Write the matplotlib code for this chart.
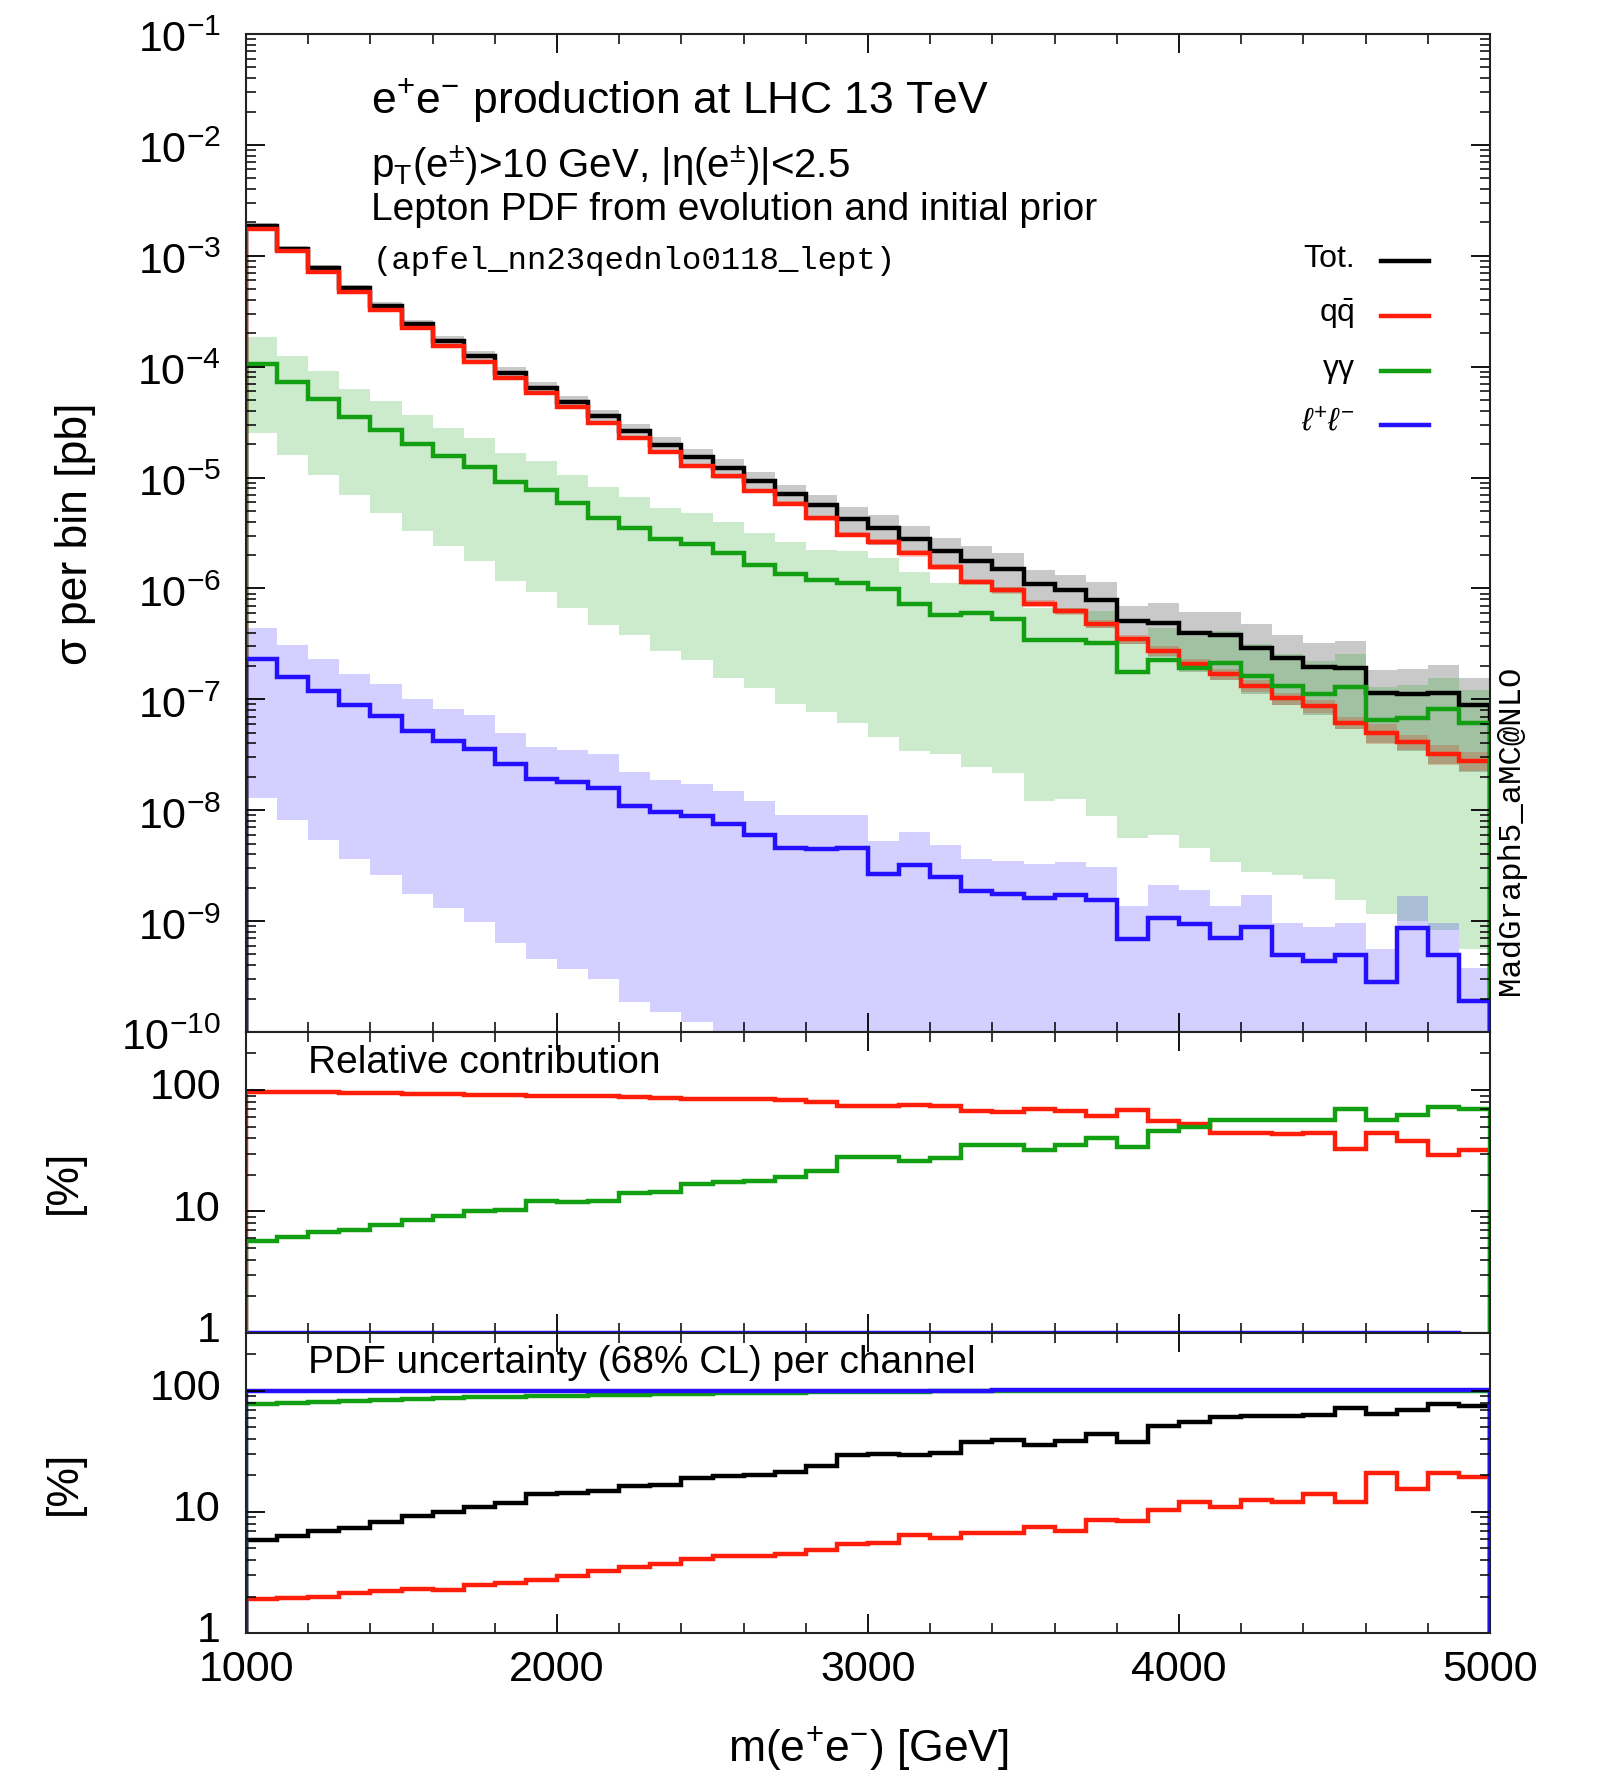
import numpy as np
import matplotlib
matplotlib.use('Agg')
import matplotlib.pyplot as plt
import matplotlib.transforms as mtransforms
from matplotlib.ticker import LogLocator, MultipleLocator, NullFormatter, FuncFormatter, FixedLocator
from matplotlib.lines import Line2D

plt.rcParams['font.family'] = ['Liberation Sans', 'DejaVu Sans']
plt.rcParams['mathtext.fontset'] = 'custom'
plt.rcParams['mathtext.rm'] = 'Liberation Sans'
plt.rcParams['mathtext.it'] = 'Liberation Sans:italic'
plt.rcParams['mathtext.bf'] = 'Liberation Sans:bold'

# ---------------- data ----------------
bin_edges = list(range(1000, 5001, 100))  # m(e+e-) bins [GeV]

tot = [1.86e-3, 1.16e-3, 7.7e-4, 5.1e-4, 3.5e-4, 2.42e-4, 1.71e-4, 1.24e-4, 8.8e-5, 6.4e-5,
       4.8e-5, 3.57e-5, 2.61e-5, 1.98e-5, 1.52e-5, 1.22e-5, 9.3e-6, 7.1e-6, 5.6e-6, 4.2e-6,
       3.52e-6, 2.82e-6, 2.17e-6, 1.76e-6, 1.50e-6, 1.09e-6, 9.6e-7, 7.85e-7, 5.08e-7, 4.9e-7,
       3.94e-7, 3.83e-7, 2.92e-7, 2.34e-7, 1.97e-7, 1.93e-7, 1.13e-7, 1.11e-7, 1.15e-7, 8.9e-8]
qqbar = [1.74e-3, 1.11e-3, 7.2e-4, 4.7e-4, 3.24e-4, 2.21e-4, 1.55e-4, 1.11e-4, 7.9e-5, 5.75e-5,
         4.34e-5, 3.11e-5, 2.28e-5, 1.69e-5, 1.27e-5, 1.03e-5, 7.53e-6, 5.83e-6, 4.28e-6, 3.06e-6,
         2.63e-6, 2.07e-6, 1.56e-6, 1.15e-6, 9.6e-7, 7.3e-7, 6.25e-7, 4.8e-7, 3.48e-7, 2.72e-7,
         2.07e-7, 1.68e-7, 1.32e-7, 1.02e-7, 8.7e-8, 6.17e-8, 5.0e-8, 4.16e-8, 3.2e-8, 2.79e-8]
gamgam = [1.06e-4, 7.2e-5, 5.1e-5, 3.5e-5, 2.7e-5, 2.0e-5, 1.55e-5, 1.24e-5, 9.1e-6, 7.8e-6,
          5.85e-6, 4.31e-6, 3.52e-6, 2.82e-6, 2.52e-6, 2.09e-6, 1.63e-6, 1.36e-6, 1.18e-6, 1.11e-6,
          9.93e-7, 7.3e-7, 5.75e-7, 6.04e-7, 5.26e-7, 3.42e-7, 3.43e-7, 3.2e-7, 1.76e-7, 2.26e-7,
          1.93e-7, 2.14e-7, 1.64e-7, 1.32e-7, 1.12e-7, 1.30e-7, 6.5e-8, 6.84e-8, 8.1e-8, 6.08e-8]
gamgam_up = [1.84e-4, 1.26e-4, 9.1e-5, 6.3e-5, 4.9e-5, 3.7e-5, 2.8e-5, 2.26e-5, 1.67e-5, 1.4e-5,
             1.06e-5, 8.2e-6, 6.7e-6, 5.33e-6, 4.8e-6, 3.98e-6, 3.13e-6, 2.61e-6, 2.24e-6, 2.17e-6,
             1.89e-6, 1.40e-6, 1.11e-6, 1.17e-6, 1.03e-6, 6.7e-7, 6.7e-7, 6.2e-7, 3.4e-7, 4.43e-7,
             3.73e-7, 4.13e-7, 3.15e-7, 2.55e-7, 2.2e-7, 2.58e-7, 1.3e-7, 1.36e-7, 1.57e-7, 1.21e-7]
gamgam_dn = [2.5e-5, 1.6e-5, 1.06e-5, 6.9e-6, 4.8e-6, 3.3e-6, 2.4e-6, 1.78e-6, 1.17e-6, 9.2e-7,
             6.7e-7, 4.7e-7, 3.8e-7, 2.73e-7, 2.24e-7, 1.55e-7, 1.26e-7, 9.0e-8, 7.7e-8, 6.1e-8,
             4.6e-8, 3.4e-8, 3.2e-8, 2.44e-8, 2.15e-8, 1.2e-8, 1.25e-8, 8.8e-9, 5.6e-9, 6.0e-9,
             4.6e-9, 3.4e-9, 2.8e-9, 2.6e-9, 2.4e-9, 1.56e-9, 1.15e-9, 1.0e-9, 8.4e-10, 5.6e-10]
leplep = [2.3e-7, 1.6e-7, 1.18e-7, 8.9e-8, 7.1e-8, 5.15e-8, 4.2e-8, 3.6e-8, 2.6e-8, 1.9e-8,
          1.78e-8, 1.6e-8, 1.1e-8, 9.6e-9, 8.9e-9, 7.5e-9, 6.0e-9, 4.55e-9, 4.5e-9, 4.6e-9,
          2.65e-9, 3.2e-9, 2.5e-9, 1.85e-9, 1.75e-9, 1.61e-9, 1.71e-9, 1.56e-9, 6.9e-10, 1.06e-9,
          9.4e-10, 7.0e-10, 8.8e-10, 4.9e-10, 4.4e-10, 4.9e-10, 2.8e-10, 8.6e-10, 4.9e-10, 1.9e-10]
leplep_up = [4.4e-7, 3.1e-7, 2.3e-7, 1.7e-7, 1.37e-7, 1.01e-7, 8.2e-8, 7.2e-8, 5.0e-8, 3.75e-8,
             3.47e-8, 3.2e-8, 2.19e-8, 1.89e-8, 1.74e-8, 1.5e-8, 1.22e-8, 9.1e-9, 9.0e-9, 9.1e-9,
             5.3e-9, 6.3e-9, 4.9e-9, 3.6e-9, 3.5e-9, 3.3e-9, 3.4e-9, 3.1e-9, 1.37e-9, 2.1e-9,
             1.9e-9, 1.37e-9, 1.73e-9, 9.7e-10, 8.8e-10, 9.7e-10, 5.6e-10, 1.69e-9, 9.7e-10, 3.8e-10]
leplep_dn = [1.28e-8, 8.2e-9, 5.4e-9, 3.6e-9, 2.6e-9, 1.75e-9, 1.31e-9, 9.9e-10, 6.3e-10, 4.6e-10,
             3.7e-10, 3.0e-10, 1.85e-10, 1.5e-10, 1.22e-10] + [5e-11] * 25

# relative contribution [%]
rel_qqbar = [96.5, 96.0, 95.5, 95.0, 93.8, 93.2, 92.0, 90.9, 90.3, 88.6,
             88.6, 88.6, 87.0, 86.4, 84.8, 84.2, 83.7, 82.1, 80.0, 74.2,
             74.2, 75.5, 74.2, 67.4, 66.5, 69.2, 67.0, 61.2, 68.8, 55.7,
             52.3, 44.3, 44.3, 43.7, 44.3, 32.4, 44.3, 37.8, 28.9, 31.8]
rel_gamgam = [5.7, 6.2, 6.8, 7.0, 7.7, 8.5, 9.1, 10.0, 10.3, 12.2,
              12.0, 12.3, 14.1, 14.6, 16.9, 17.4, 17.8, 19.4, 21.7, 27.9,
              27.9, 26.0, 27.6, 35.0, 35.3, 32.2, 35.3, 40.3, 33.9, 45.7,
              49.3, 57.1, 57.0, 57.1, 57.0, 69.6, 57.1, 62.8, 72.8, 69.6]

# PDF uncertainty (68% CL) per channel [%]
unc_tot = [5.9, 6.3, 7.0, 7.4, 8.3, 9.2, 10.0, 11.0, 11.9, 14.1,
           14.3, 14.8, 16.5, 16.6, 18.9, 19.9, 20.1, 21.4, 24.0, 29.7,
           29.9, 29.3, 30.7, 37.6, 39.1, 35.8, 38.6, 44.2, 38.1, 51.2,
           54.9, 60.8, 62.0, 62.0, 63.1, 72.2, 64.4, 69.0, 77.4, 75.0]
unc_qqbar = [1.92, 1.95, 2.0, 2.15, 2.24, 2.31, 2.27, 2.48, 2.57, 2.76,
             2.96, 3.28, 3.50, 3.72, 4.07, 4.29, 4.34, 4.52, 4.84, 5.43,
             5.5, 6.44, 6.04, 6.65, 6.7, 7.5, 7.0, 8.5, 8.4, 10.4,
             12.0, 10.9, 12.6, 12.0, 14.0, 12.0, 20.9, 15.6, 20.9, 19.3]
unc_gamgam = [77.4, 79.0, 80.5, 82.0, 84.1, 85.8, 87.6, 88.6, 89.7, 90.9,
              91.4, 92.0, 92.6, 93.2, 93.6, 95.0, 95.6, 96.6, 97.2, 98.1,
              98.3, 98.5, 98.7, 98.8, 99.0, 99.1, 99.2, 99.3, 99.4, 99.5,
              99.5, 99.6, 99.6, 99.7, 99.7, 99.7, 99.8, 99.8, 99.8, 99.8]
unc_leplep = [99.4, 99.4, 99.5, 99.5, 99.6, 99.6, 99.7, 99.7, 99.8, 99.8,
              99.9, 99.9, 100.0, 100.0, 100.1, 100.1, 100.2, 100.2, 100.3, 100.3,
              100.4, 100.4, 100.5, 100.5, 100.6, 100.6, 100.7, 100.7, 100.8, 100.8,
              100.9, 100.9, 101.0, 101.0, 101.0, 101.1, 101.1, 101.1, 101.2, 101.2]

legend_labels = ['Tot.', r'$\mathregular{q\bar{q}}$', 'γγ', r'$\ell^{+}\ell^{-}$']

# ---------------- style ----------------
C_TOT = '#000000'
C_QQ = '#ff1e0a'
C_GG = '#12a012'
C_LL = '#2410ff'
LW = 3.2

edges = np.array(bin_edges, dtype=float)
tot_a = np.array(tot); qq_a = np.array(qqbar)
ut = np.array(unc_tot) / 100.0
uq = np.array(unc_qqbar) / 100.0

fig = plt.figure(figsize=(15.99, 17.72), dpi=100)
L, W = 246 / 1599, (1490 - 246) / 1599
ax = fig.add_axes([L, 1 - 1032 / 1772, W, 998 / 1772])
axr = fig.add_axes([L, 1 - 1333 / 1772, W, 301 / 1772], sharex=ax)
axu = fig.add_axes([L, 1 - 1633 / 1772, W, 300 / 1772], sharex=ax)

# ---- main panel ----
ax.stairs(tot_a * (1 + ut), edges, baseline=tot_a * (1 - ut), fill=True, color=C_TOT, alpha=0.21, lw=0)
ax.stairs(qq_a * (1 + uq), edges, baseline=qq_a * (1 - uq), fill=True, color=C_QQ, alpha=0.25, lw=0)
ax.stairs(gamgam_up, edges, baseline=gamgam_dn, fill=True, color=C_GG, alpha=0.21, lw=0)
ax.stairs(leplep_up, edges, baseline=leplep_dn, fill=True, color=C_LL, alpha=0.2, lw=0)

BASE = 1e-14
ax.stairs(tot, edges, baseline=BASE, color=C_TOT, lw=LW)
ax.stairs(qqbar, edges, baseline=BASE, color=C_QQ, lw=LW)
ax.stairs(gamgam, edges, baseline=BASE, color=C_GG, lw=LW)
ax.stairs(leplep, edges, baseline=BASE, color=C_LL, lw=LW)

ax.set_yscale('log')
ax.set_ylim(1e-10, 1e-1)
ax.set_xlim(1000, 5000)

# ---- relative contribution ----
ll_rel = 100.0 * np.array(leplep) / tot_a
axr.stairs(np.maximum(ll_rel[:-1], 1.0), edges[:-1], color=C_LL, lw=LW)
axr.stairs(rel_qqbar, edges, baseline=1e-3, color=C_QQ, lw=LW)
axr.stairs(rel_gamgam, edges, baseline=1e-3, color=C_GG, lw=LW)
axr.set_yscale('log')
axr.set_ylim(1, 300)

# ---- PDF uncertainty ----
axu.stairs(unc_tot, edges, baseline=1e-3, color=C_TOT, lw=LW)
axu.stairs(unc_qqbar, edges, baseline=1e-3, color=C_QQ, lw=LW)
axu.stairs(unc_gamgam, edges, baseline=1e-3, color=C_GG, lw=LW)
axu.stairs(unc_leplep, edges, baseline=1e-3, color=C_LL, lw=LW)
axu.set_yscale('log')
axu.set_ylim(1, 300)

# ---- axes styling ----
def sci(v, pos):
    e = int(round(np.log10(v)))
    return r'$\mathregular{10^{%d}}$' % e

for a in (ax, axr, axu):
    a.xaxis.set_major_locator(MultipleLocator(1000))
    a.xaxis.set_minor_locator(MultipleLocator(200))
    a.tick_params(which='both', direction='in', top=True, right=True, labelsize=31)
    a.tick_params(which='major', length=14, width=1.3)
    a.tick_params(which='minor', length=7.5, width=1.1)
    a.tick_params(axis='y', pad=18)
    a.tick_params(axis='x', pad=12)
    for s in a.spines.values():
        s.set_linewidth(1.5)
        s.set_color('#222222')

ax.yaxis.set_major_locator(LogLocator(base=10, numticks=30))
ax.yaxis.set_minor_locator(LogLocator(base=10, subs=np.arange(2, 10), numticks=300))
ax.yaxis.set_minor_formatter(NullFormatter())
ax.yaxis.set_major_formatter(FuncFormatter(sci))

for a in (axr, axu):
    a.yaxis.set_major_locator(FixedLocator([1, 10, 100]))
    a.yaxis.set_minor_locator(LogLocator(base=10, subs=np.arange(2, 10), numticks=300))
    a.yaxis.set_minor_formatter(NullFormatter())
    a.yaxis.set_major_formatter(FuncFormatter(lambda v, p: '%d' % round(v)))

plt.setp(ax.get_xticklabels(), visible=False)
plt.setp(axr.get_xticklabels(), visible=False)

# ---- texts ----
ax.text(0.1005, 0.934, r'$\mathregular{e^{+}e^{-}}$ production at LHC 13 TeV',
        transform=ax.transAxes, fontsize=32, va='center', ha='left')
ax.text(0.1005, 0.868, r'$\mathregular{p_{T}(e^{\pm})}$>10 GeV, |η(e$^{\pm}$)|<2.5',
        transform=ax.transAxes, fontsize=29, va='center', ha='left')
ax.text(0.1005, 0.824, 'Lepton PDF from evolution and initial prior',
        transform=ax.transAxes, fontsize=28, va='center', ha='left')
ax.text(0.102, 0.7725, '(apfel_nn23qednlo0118_lept)', family='Liberation Mono',
        transform=ax.transAxes, fontsize=23.3, va='center', ha='left')

leg_y = [0.7725, 0.7174, 0.6623, 0.6082]
leg_c = [C_TOT, C_QQ, C_GG, C_LL]
for lab, yy, cc in zip(legend_labels, leg_y, leg_c):
    ax.text(0.891, yy + 0.002, lab, transform=ax.transAxes, fontsize=23,
            ha='right', va='center')
    ax.add_line(Line2D([0.912, 0.951], [yy, yy], transform=ax.transAxes,
                       color=cc, lw=LW, clip_on=False))

axr.text(0.05, 0.897, 'Relative contribution', transform=axr.transAxes,
         fontsize=28, va='center', ha='left')
axu.text(0.05, 0.90, 'PDF uncertainty (68% CL) per channel', transform=axu.transAxes,
         fontsize=28, va='center', ha='left')

fig.text(76 / 1599, 1 - 534 / 1772, 'σ per bin [pb]', rotation=90, fontsize=32,
         ha='center', va='center')
fig.text(64 / 1599, 1 - 1182 / 1772, '[%]', rotation=90, fontsize=32,
         ha='center', va='center')
fig.text(64 / 1599, 1 - 1483 / 1772, '[%]', rotation=90, fontsize=32,
         ha='center', va='center')
fig.text(868 / 1599, 1 - 1748 / 1772, r'$\mathregular{m(e^{+}e^{-})}$ [GeV]', fontsize=32,
         ha='center', va='center')
fig.text(1511 / 1599, 1 - 830 / 1772, 'MadGraph5_aMC@NLO', family='Liberation Mono',
         rotation=90, fontsize=23.3, ha='center', va='center')

# small vertical nudges of the y tick labels, as in the reference
fig.canvas.draw()
for a, dy in ((ax, -2.0), (axr, 4.5), (axu, 4.5)):
    off = mtransforms.ScaledTranslation(0, dy / 72.0, fig.dpi_scale_trans)
    for tk in a.yaxis.get_major_ticks():
        tk.label1.set_transform(tk.label1.get_transform() + off)

fig.savefig('out.png', dpi=100)
